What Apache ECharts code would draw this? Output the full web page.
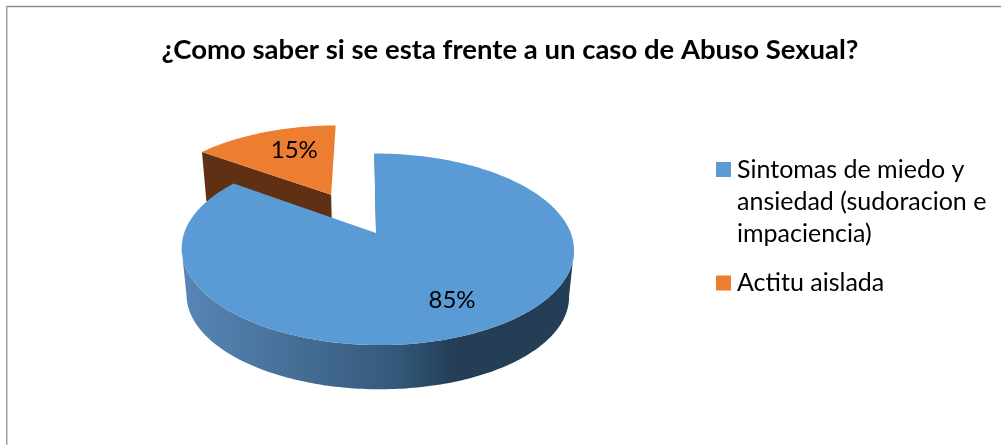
<!DOCTYPE html>
<html><head><meta charset="utf-8">
<style>html,body{margin:0;padding:0;background:#fff}#c{width:1001px;height:445px}</style>
<script src="https://cdn.jsdelivr.net/npm/echarts@6/dist/echarts.min.js"></script>
</head><body><div id="c"></div>
<script>
const titleText = '¿Como saber si se esta frente a un caso de Abuso Sexual?';
const categories = ['Sintomas de miedo y\nansiedad (sudoracion e\nimpaciencia)', 'Actitu aislada'];
const values = [85, 15];
const labels = ['85%', '15%'];
const FONT = 'Lato, Carlito, sans-serif';

const total = values.reduce((a, b) => a + b, 0);
// projection of the tilted disc
const P = {x0: 376, y0: 233, A: 193.3, B: 93, S: 2, k: 0.17, m: 0.0076, depth: 47, shrink: 0.975};
const explode = [0, 0.506];
const explodeBearing = [153, 331];
const labelBearing = [152, 338];
const labelR = [0.73, 0.65];
const faceColors = ['#5b9bd5', '#ed7d31'];
const wallColors = ['#233e55', '#5f3013'];

function project(u, v, low) {
  const s = low ? P.shrink : 1, w = 1 - P.k * v - P.m * u;
  return [P.x0 + s * (P.A * u + P.S * v) / w, P.y0 + (low ? P.depth : 0) + s * P.B * v / w];
}
function polar(deg, r, e, mid) {
  const a = deg * Math.PI / 180, m = mid * Math.PI / 180;
  return [r * Math.sin(a) + e * Math.sin(m), -r * Math.cos(a) - e * Math.cos(m)];
}
function arc(from, to, e, mid, low) {
  const pts = [], n = Math.max(8, Math.ceil(Math.abs(to - from)));
  for (let i = 0; i <= n; i++) {
    const [u, v] = polar(from + (to - from) * i / n, 1, e, mid);
    pts.push(project(u, v, low));
  }
  return pts;
}
function sliceRange(i) {
  const start = values.slice(0, i).reduce((a, b) => a + b, 0) / total * 360;
  return [start, start + values[i] / total * 360];
}

function renderSlice(i) {
  return function (params, api) {
    const [a0, a1] = sliceRange(i);
    const mid = explodeBearing[i], e = explode[i];
    const apex = project(...polar(0, 0, e, mid), false);
    const apexLow = project(...polar(0, 0, e, mid), true);
    const children = [];
    const poly = (points, fill) => ({type: 'polygon', shape: {points}, style: {fill, stroke: null}, silent: true});
    if (i === 0) {
      // curved outer wall, front part between the two silhouette points
      const top = arc(100, Math.min(a1, 260), e, mid, false);
      const low = arc(100, Math.min(a1, 260), e, mid, true);
      children.push(poly(top.concat(low.reverse()), {
        type: 'linear', global: true, x: 185, y: 0, x2: 570, y2: 0,
        colorStops: [
          {offset: 0, color: '#5686b5'},
          {offset: 0.35, color: '#42698f'},
          {offset: 0.55, color: '#33587b'},
          {offset: 0.7, color: wallColors[0]},
          {offset: 1, color: wallColors[0]}
        ]
      }));
      // sliver of the cut face at the start edge
      const s = project(...polar(a0, 1, e, mid), false);
      children.push({type: 'line', shape: {x1: s[0] + 0.6, y1: s[1] + 1, x2: apex[0] + 0.6, y2: apex[1]},
        style: {stroke: wallColors[0], lineWidth: 1}, silent: true});
    } else {
      // radial cut face seen from the front
      const s = project(...polar(a0, 1, e, mid), false);
      const sl = project(...polar(a0, 1, e, mid), true);
      children.push(poly([s, apex, apexLow, sl], wallColors[1]));
    }
    children.push(poly(arc(a0, a1, e, mid, false).concat([apex]), faceColors[i]));
    const [lu, lv] = polar(labelBearing[i], labelR[i], e, mid);
    const lp = project(lu, lv, false);
    children.push({type: 'text', x: lp[0], y: lp[1], silent: true,
      style: {text: labels[i], fill: '#000', font: '24px ' + FONT, align: 'center', verticalAlign: 'middle'}});
    return {type: 'group', children};
  };
}

const chart = echarts.init(document.getElementById('c'), null, {renderer: 'canvas'});
chart.setOption({
  animation: false,
  backgroundColor: '#fff',
  title: {text: titleText, left: 510, top: 36, textAlign: 'center', padding: 0,
    textStyle: {fontFamily: FONT, fontSize: 27.5, fontWeight: 'bold', color: '#000'}},
  legend: [
    {data: [categories[0]], left: 716, top: 154, padding: 0, orient: 'vertical', selectedMode: false,
     itemWidth: 15, itemHeight: 96, itemGap: 0, symbolKeepAspect: false,
     icon: 'path://M0 8H15V23H0Z M0 0L15 0M0 96L15 96',
     itemStyle: {borderWidth: 0, color: faceColors[0]},
     textStyle: {fontFamily: FONT, fontSize: 25, lineHeight: 32, color: '#000', padding: [0, 0, 0, 1]}},
    {data: [categories[1]], left: 716, top: 267, padding: 0, orient: 'vertical', selectedMode: false,
     itemWidth: 15, itemHeight: 15, icon: 'rect',
     itemStyle: {borderWidth: 0, color: faceColors[1]},
     textStyle: {fontFamily: FONT, fontSize: 25, lineHeight: 32, color: '#000', padding: [0, 0, 0, 1]}}
  ],
  graphic: [
    {type: 'line', shape: {x1: 6.5, y1: 6.5, x2: 1001, y2: 6.5}, style: {stroke: '#8f8f8f', lineWidth: 1.5}, silent: true},
    {type: 'line', shape: {x1: 6.75, y1: 6, x2: 6.75, y2: 445}, style: {stroke: '#a0a0a0', lineWidth: 1.5}, silent: true}
  ],
  series: [1, 0].map(i => ({
    type: 'custom', name: categories[i], coordinateSystem: 'none',
    itemStyle: {color: faceColors[i]},
    data: [values[i]], renderItem: renderSlice(i), silent: true
  }))
});
</script></body></html>
